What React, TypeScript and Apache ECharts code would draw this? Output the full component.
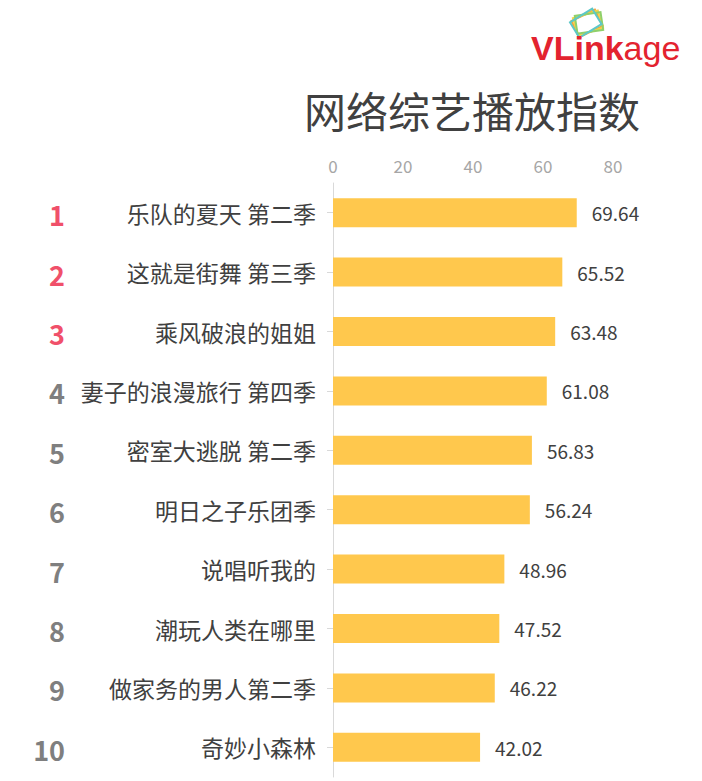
import React, { useEffect, useRef } from "react";
import * as echarts from "echarts";

const categories = [
  "乐队的夏天 第二季",
  "这就是街舞 第三季",
  "乘风破浪的姐姐",
  "妻子的浪漫旅行 第四季",
  "密室大逃脱 第二季",
  "明日之子乐团季",
  "说唱听我的",
  "潮玩人类在哪里",
  "做家务的男人第二季",
  "奇妙小森林",
];
const ranks = ["1", "2", "3", "4", "5", "6", "7", "8", "9", "10"];
const values = [69.64, 65.52, 63.48, 61.08, 56.83, 56.24, 48.96, 47.52, 46.22, 42.02];
const xTicks = [0, 20, 40, 60, 80];
const title = "网络综艺播放指数";

export default function App() {
  const ref = useRef<HTMLDivElement>(null);
  useEffect(() => {
    if (!ref.current) return;
    const chart = echarts.init(ref.current, null, { renderer: "svg" });
    const font = "'Noto Sans CJK SC', 'Noto Sans', sans-serif";
    const logoFont = "'Liberation Sans', Arial, sans-serif";
    chart.setOption({
      animation: false,
      backgroundColor: "#ffffff",
      textStyle: { fontFamily: font },
      grid: { left: 333, right: 89, top: 183, bottom: 4, containLabel: false },
      xAxis: {
        type: "value",
        position: "top",
        min: xTicks[0],
        max: xTicks[xTicks.length - 1],
        interval: 20,
        axisLine: { show: false },
        axisTick: { show: false },
        splitLine: { show: false },
        axisLabel: { color: "#a6a6a6", fontSize: 17, margin: 9, fontFamily: font },
      },
      yAxis: [
        {
          type: "category",
          data: categories,
          inverse: true,
          axisLine: { show: true, lineStyle: { color: "#d9d9d9", width: 1 } },
          axisTick: { show: true, alignWithLabel: true, length: 6, lineStyle: { color: "#d9d9d9" } },
          axisLabel: { color: "#404040", fontSize: 23, margin: 17, fontFamily: font },
        },
        {
          type: "category",
          data: ranks,
          inverse: true,
          position: "left",
          offset: 268,
          axisLine: { show: false },
          axisTick: { show: false },
          axisLabel: {
            margin: 0,
            align: "right",
            formatter: (v: string, i: number) => (i < 3 ? `{top|${v}}` : `{rest|${v}}`),
            rich: {
              top: { color: "#f0506a", fontSize: 27, fontWeight: "bold", fontFamily: font, padding: [4, 0, 0, 0] },
              rest: { color: "#7f7f7f", fontSize: 27, fontWeight: "bold", fontFamily: font, padding: [4, 0, 0, 0] },
            },
          },
        },
      ],
      series: [
        {
          type: "bar",
          data: values,
          yAxisIndex: 0,
          barWidth: 29,
          itemStyle: { color: "#ffc84d" },
          label: {
            show: true,
            position: "right",
            distance: 15,
            color: "#404040",
            fontSize: 19,
            fontFamily: font,
            formatter: (p: any) => p.value.toFixed(2),
          },
        },
      ],
      graphic: [
        {
          type: "text",
          right: 62,
          top: 88,
          style: { text: title, fontSize: 42, fill: "#404040", fontFamily: font },
        },
        {
          type: "group",
          x: 588,
          y: 23,
          children: [
            { type: "rect", rotation: 0.45, shape: { x: -14, y: -9, width: 26, height: 18 }, style: { fill: "none", stroke: "#f4a23c", lineWidth: 2 } },
            { type: "rect", rotation: 0.3, shape: { x: -13, y: -9, width: 26, height: 18 }, style: { fill: "none", stroke: "#f2d44a", lineWidth: 2 } },
            { type: "rect", rotation: 0.15, shape: { x: -12, y: -9, width: 26, height: 18 }, style: { fill: "none", stroke: "#8fd06a", lineWidth: 2 } },
            { type: "rect", rotation: 0.55, shape: { x: -15, y: -10, width: 26, height: 18 }, style: { fill: "none", stroke: "#5cc8c8", lineWidth: 2 } },
          ],
        },
        {
          type: "text",
          left: 531,
          top: 31,
          style: {
            text: "{b|VLink}{n|age}",
            rich: {
              b: { fontSize: 34, fontWeight: "bold", fill: "#e3232f", fontFamily: logoFont },
              n: { fontSize: 34, fill: "#e3232f", fontFamily: logoFont },
            },
          },
        },
      ],
    });
    return () => chart.dispose();
  }, []);
  return <div ref={ref} style={{ position: "fixed", left: 0, top: 0, width: 702, height: 781 }} />;
}
